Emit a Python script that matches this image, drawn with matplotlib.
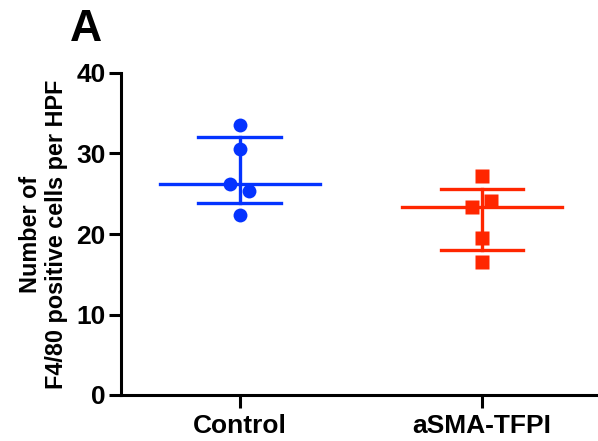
import numpy as np
import matplotlib.pyplot as plt

plt.rcParams['font.family'] = ['Liberation Sans', 'DejaVu Sans']
plt.rcParams['font.weight'] = 'bold'

groups = ["Control", "aSMA-TFPI"]
control = [33.6, 30.6, 26.2, 25.4, 22.3]
tfpi = [27.2, 24.1, 23.4, 19.5, 16.5]
# horizontal scatter offsets (GraphPad-style spread for tied values)
control_dx = [0, 0, -0.04, 0.04, 0]
tfpi_dx = [0, 0.04, -0.04, 0, 0]
colors = ["#0433FF", "#FF2600"]
markers = ["o", "s"]

fig = plt.figure(figsize=(5.98, 4.41), dpi=100)
ax = fig.add_axes([121/598, 46/441, 1 - 121/598, (395 - 73)/441])

for i, (vals, dx) in enumerate([(control, control_dx), (tfpi, tfpi_dx)]):
    c = colors[i]
    q1, med, q3 = np.percentile(vals, [25, 50, 75], method="weibull")
    ax.plot([i, i], [q1, q3], color=c, lw=2.4, zorder=2)
    ax.plot([i - 0.33, i + 0.33], [med, med], color=c, lw=2.4, zorder=2)
    for q in (q1, q3):
        ax.plot([i - 0.17, i + 0.17], [q, q], color=c, lw=2.4, zorder=2)
    ax.plot(np.array(dx) + i, vals, linestyle="none", marker=markers[i],
            ms=10 if i == 0 else 9.5, color=c, mec="none", zorder=3)

ax.set_xlim(-0.49, 1.48)
ax.set_ylim(0, 40)
ax.set_yticks([0, 10, 20, 30, 40])
ax.set_xticks([0, 1])
ax.set_xticklabels(groups)
for s in ["top", "right"]:
    ax.spines[s].set_visible(False)
for s in ["left", "bottom"]:
    ax.spines[s].set_linewidth(2.2)
ax.tick_params(width=2.2, length=9, labelsize=19, pad=2)
ax.tick_params(axis="x", pad=5)
ax.set_ylabel("Number of\nF4/80 positive cells per HPF", fontsize=16.8,
              fontweight="bold", labelpad=6, linespacing=1.15)

fig.text(70/598, 1 - 41/441, "A", fontsize=32, fontweight="bold", va="baseline")

fig.savefig("out.png", dpi=100)
